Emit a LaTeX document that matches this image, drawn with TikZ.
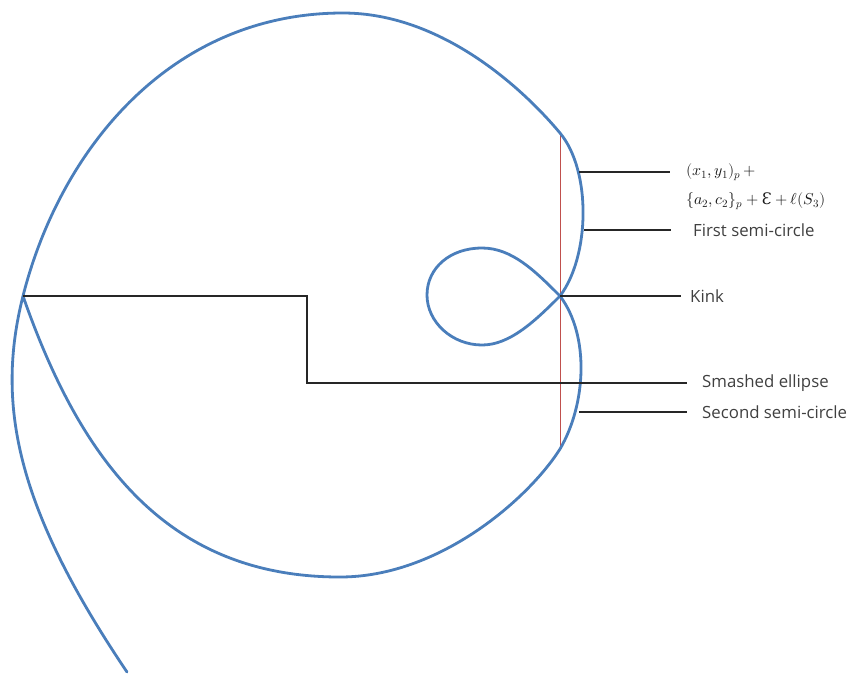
\documentclass[tikz,border=0pt]{standalone}
\usepackage{fontspec}
\usepackage{unicode-math}
\setmainfont{Open Sans}
\newfontfamily\dvs{DejaVu Serif}
\definecolor{curveblue}{HTML}{4A7EBB}
\definecolor{redline}{HTML}{C0504D}
\begin{document}
\begin{tikzpicture}[x=1pt,y=-1pt,
  curve/.style={curveblue,line width=2.8pt,line join=round,line cap=round},
  redmark/.style={redline,line width=1pt},
  leader/.style={black!85,line width=1.1pt},
  lab/.style={anchor=west,inner sep=0pt,text=black!75,font=\fontsize{16.8}{20}\selectfont},
  mathlab/.style={anchor=north west,inner sep=0pt,align=left,text=black!90,font=\fontsize{15.8}{29}\selectfont}]
\useasboundingbox (0,0) rectangle (850,673);
% red vertical line
\coordinate (r1) at (560,133);
\coordinate (r2) at (560,449);
\draw[redmark] (r1) -- (r2);
% points on the curve
\coordinate (tail) at (127,672);
\coordinate (cusp) at (23,296);
\coordinate (top) at (343,13);
\coordinate (kink) at (560,296);
\coordinate (loopb) at (482,345);
\coordinate (loopl) at (427,295);
\coordinate (loopt) at (482,248);
\coordinate (bottom) at (340,577);
% the curve
\draw[curve] (tail) .. controls (15,506) and (-4,403) .. (cusp)
  .. controls (60,150) and (170,13) .. (top)
  .. controls (443,13) and (525,91) .. (r1)
  .. controls (591.5,171) and (590,256) .. (kink)
  .. controls (535,321) and (510,345) .. (loopb)
  .. controls (452,345) and (427,322) .. (loopl)
  .. controls (427,268) and (450,248) .. (loopt)
  .. controls (512,248) and (535,271) .. (kink)
  .. controls (590,336) and (586,404.5) .. (r2)
  .. controls (529,498) and (440,577) .. (bottom)
  .. controls (170,577) and (82,465) .. (cusp);
% leader start points
\coordinate (p1) at (579,172);
\coordinate (p2) at (584,230);
\coordinate (bend1) at (307,296);
\coordinate (bend2) at (307,383);
\coordinate (p4) at (579,412);
% leader ends
\coordinate (e1) at (670,172);
\coordinate (e2) at (671,230);
\coordinate (e3) at (681,296);
\coordinate (e4) at (687,383);
\coordinate (e5) at (687,412);
% labels
\node[mathlab] (lm) at (686,163) {$(x_1,y_1)_p\,+$\\$\{a_2,c_2\}_p+\mbox{\dvs Ɛ}+\ell(S_3)$};
\node[lab] (lfirst) at (693,230) {First semi-circle};
\node[lab] (lkink) at (690,296) {Kink};
\node[lab] (lsmash) at (702,383) {Smashed ellipse};
\node[lab] (lsecond) at (702,412) {Second semi-circle};
% leaders
\draw[leader] (p1) -- (e1);
\draw[leader] (p2) -- (e2);
\draw[leader] (kink) -- (e3);
\draw[leader] (cusp) -- (bend1) -- (bend2) -- (e4);
\draw[leader] (p4) -- (e5);
\end{tikzpicture}
\end{document}
